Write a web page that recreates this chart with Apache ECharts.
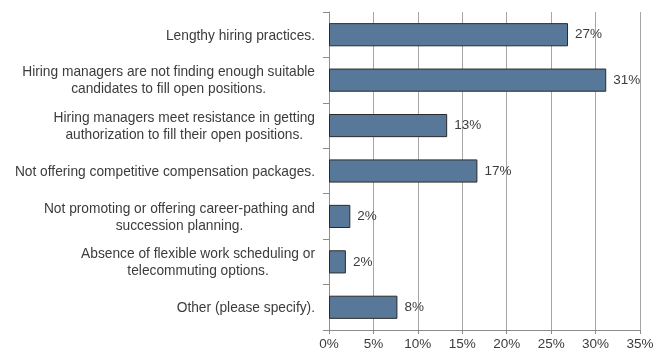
<!DOCTYPE html>
<html>
<head>
<meta charset="utf-8">
<script src="https://cdn.jsdelivr.net/npm/echarts@6/dist/echarts.min.js"></script>
<style>html,body{margin:0;padding:0;background:#fff}#c{width:666px;height:358px}</style>
</head>
<body>
<div id="c"></div>
<script>
const categories = [
  ["Lengthy hiring practices."],
  ["Hiring managers are not finding enough suitable", "candidates to fill open positions."],
  ["Hiring managers meet resistance in getting", "authorization to fill their open positions."],
  ["Not offering competitive compensation packages."],
  ["Not promoting or offering career-pathing and", "succession planning."],
  ["Absence of flexible work scheduling or", "telecommuting options."],
  ["Other (please specify)."]
];
const values = [26.9, 31.2, 13.3, 16.7, 2.4, 1.9, 7.7];
const valueLabels = ["27%", "31%", "13%", "17%", "2%", "2%", "8%"];
const xTicks = [0, 5, 10, 15, 20, 25, 30, 35];

const FONT = 'Liberation Sans, Arial, sans-serif';
const chart = echarts.init(document.getElementById('c'), null, {renderer: 'canvas'});
chart.setOption({
  animation: false,
  grid: {left: 329, right: 26, top: 12, bottom: 28, containLabel: false},
  xAxis: {
    type: 'value', min: xTicks[0], max: xTicks[xTicks.length - 1], interval: 5,
    axisLine: {show: true, lineStyle: {color: '#8c8c8c'}},
    axisTick: {show: true, length: 4, lineStyle: {color: '#8c8c8c'}},
    axisLabel: {margin: 7, color: '#3c3c3c', fontFamily: FONT, fontSize: 13.5, formatter: v => v + '%'},
    splitLine: {show: true, lineStyle: {color: '#a6a6a6'}}
  },
  yAxis: {
    type: 'category', inverse: true,
    data: categories.map((c, i) => i),
    axisLine: {show: true, lineStyle: {color: '#8c8c8c'}},
    axisTick: {show: true, inside: false, length: 6, lineStyle: {color: '#8c8c8c'}},
    axisLabel: {
      margin: 14, align: 'right', color: '#3c3c3c',
      fontFamily: FONT, fontSize: 13.75, lineHeight: 17,
      formatter: (v) => categories[+v].map(l => '{c|' + l + '}').join('\n'),
      rich: {c: {align: 'center', fontFamily: FONT, fontSize: 13.75, lineHeight: 17, color: '#3c3c3c', padding: [2, 0, 0, 0]}}
    }
  },
  series: [{
    type: 'bar', data: values, barWidth: '51%',
    itemStyle: {color: '#58789a', borderColor: '#2a2a2a', borderWidth: 1},
    label: {
      show: true, position: 'right', distance: 7, color: '#3c3c3c',
      fontFamily: FONT, fontSize: 13.5,
      formatter: p => valueLabels[p.dataIndex]
    }
  }]
});
</script>
</body>
</html>
